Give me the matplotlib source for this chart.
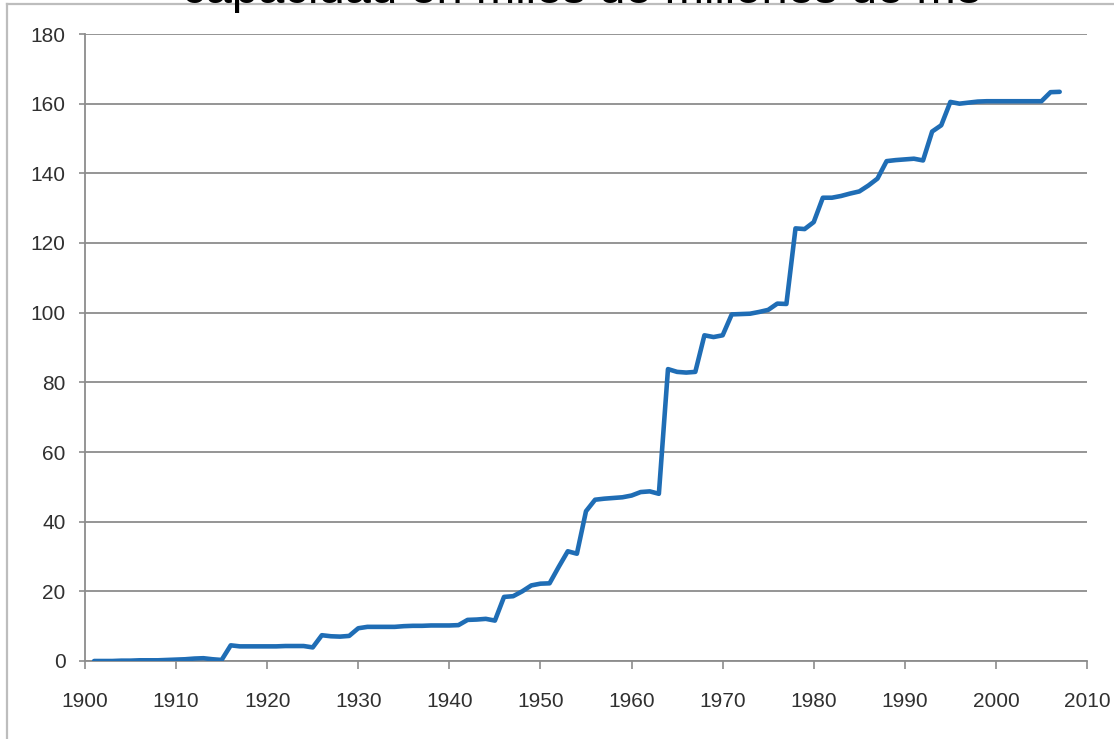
import matplotlib.pyplot as plt
from matplotlib.lines import Line2D

years = list(range(1901, 2008))
capacity = [
    0.0, 0.0, 0.0, 0.1, 0.1, 0.2, 0.2, 0.2, 0.3, 0.4,        # 1901-1910
    0.5, 0.7, 0.8, 0.5, 0.3, 4.5, 4.2, 4.2, 4.2, 4.2,        # 1911-1920
    4.2, 4.3, 4.3, 4.3, 3.9, 7.4, 7.1, 7.0, 7.2, 9.4,        # 1921-1930
    9.8, 9.8, 9.8, 9.8, 10.0, 10.1, 10.1, 10.2, 10.2, 10.2,  # 1931-1940
    10.3, 11.8, 11.9, 12.1, 11.6, 18.4, 18.6, 20.0, 21.7, 22.2,  # 1941-1950
    22.3, 27.0, 31.5, 30.8, 43.0, 46.3, 46.6, 46.8, 47.0, 47.5,  # 1951-1960
    48.5, 48.7, 48.0, 83.8, 83.0, 82.8, 83.0, 93.5, 93.0, 93.5,  # 1961-1970
    99.5, 99.6, 99.7, 100.2, 100.8, 102.6, 102.5, 124.2, 124.0, 126.0,  # 1971-1980
    133.0, 133.0, 133.5, 134.2, 134.8, 136.5, 138.5, 143.5, 143.8, 144.0,  # 1981-1990
    144.2, 143.7, 152.0, 153.8, 160.5, 160.0, 160.3, 160.6, 160.7, 160.7,  # 1991-2000
    160.7, 160.7, 160.7, 160.7, 160.7, 163.3, 163.4,  # 2001-2007
]
xticks = list(range(1900, 2011, 10))
yticks = list(range(0, 181, 20))
title = "capacidad en miles de millones de m3"

W, H = 1114, 739
fig = plt.figure(figsize=(W / 100, H / 100), dpi=100)
ax = fig.add_axes([85 / W, 1 - 661 / H, (1087 - 85) / W, (661 - 34) / H])

ax.plot(years, capacity, color='#1f6db5', linewidth=3.3,
        solid_joinstyle='round', solid_capstyle='round', zorder=3)

ax.set_xlim(1900, 2010)
ax.set_ylim(0, 180)
ax.set_xticks(xticks)
ax.set_yticks(yticks)

grid_col = '#8c8c8c'
ax.grid(axis='y', color=grid_col, linewidth=1.3)
ax.set_axisbelow(True)
for side in ['top', 'right']:
    ax.spines[side].set_visible(False)
for side in ['left', 'bottom']:
    ax.spines[side].set_color(grid_col)
    ax.spines[side].set_linewidth(1.3)

tick_font = ['Liberation Sans Narrow', 'Liberation Sans', 'DejaVu Sans']
ax.tick_params(axis='x', length=6, width=1.2, color=grid_col, pad=16,
               labelsize=15, labelcolor='#303030')
ax.tick_params(axis='y', length=4, width=1.2, color=grid_col, pad=10,
               labelsize=15, labelcolor='#303030')
for lab in ax.get_xticklabels() + ax.get_yticklabels():
    lab.set_family(tick_font)

# chart border (partly outside the picture)
border_col = '#bdbdbd'
fig.add_artist(Line2D([7 / W, 7 / W], [0, 1 - 4 / H], transform=fig.transFigure,
                      color=border_col, linewidth=1.6))
fig.add_artist(Line2D([7 / W, 1], [1 - 4 / H, 1 - 4 / H], transform=fig.transFigure,
                      color=border_col, linewidth=1.6))

# title is cut off by the top edge, as in the original
fig.text(582 / W, 1 - 3 / H, title, ha='center', va='baseline',
         fontsize=34, family=['Liberation Sans', 'DejaVu Sans'], color='black',
         zorder=5)

fig.savefig('out.png', dpi=100, facecolor='white')
